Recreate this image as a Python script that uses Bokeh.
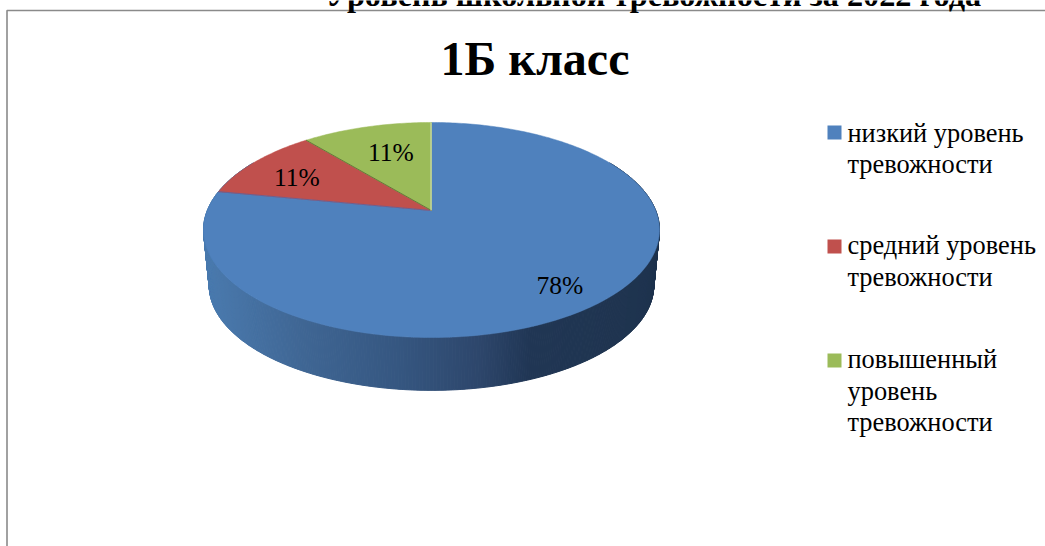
import math
from bokeh.plotting import figure
from bokeh.embed import file_html
from bokeh.resources import INLINE
from bokeh.core.properties import value

# --- data ---
categories = ["низкий уровень тревожности", "средний уровень тревожности", "повышенный уровень тревожности"]
shares = [78, 11, 11]
share_labels = ["78%", "11%", "11%"]
legend_lines = [["низкий уровень", "тревожности"], ["средний уровень", "тревожности"],
                ["повышенный", "уровень", "тревожности"]]
slice_colors = ["#4f81bd", "#c0504d", "#9bbb59"]
chart_title = "1Б класс"
page_title = "Уровень школьной тревожности за 2022 года"

# --- layout ---
W, H = 1045, 546
CX, CY, A, B, K = 431, 210, 224.2, 104.0, 0.1814
DEPTH_Y, DEPTH_SCALE = 56, 0.975
FONT = value("Liberation Serif")
BASE_SHIFT = 0.4  # the svg text sits this many em below the given alphabetic anchor

def project(frac, scale=1.0, dy=0.0):
    th = 2 * math.pi * frac
    u, v = math.sin(th), math.cos(th)
    s = 1 / (1 + K * v)
    return CX + A * u * s * scale, CY - B * v * s * scale + dy

def side_color(x):
    stops = [(205, (0x4a, 0x7a, 0xae)), (300, (0x3f, 0x66, 0x94)), (400, (0x35, 0x56, 0x80)),
             (480, (0x2d, 0x46, 0x6b)), (530, (0x20, 0x36, 0x54)), (660, (0x1e, 0x33, 0x4e))]
    for (x0, c0), (x1, c1) in zip(stops, stops[1:]):
        if x <= x1:
            t = max(0, (x - x0) / (x1 - x0))
            return "#%02x%02x%02x" % tuple(round(a + (b - a) * t) for a, b in zip(c0, c1))
    return "#1e334e"

def put_text(p, xs, ys, texts, px, **kw):
    shifted = [y - BASE_SHIFT * px for y in ys]
    p.text(xs, shifted, text=texts, text_font=FONT, text_font_size=f"{px}px", text_color="black",
           text_baseline="alphabetic", **kw)

p = figure(width=W, height=H, x_range=(0, W), y_range=(H, 0), toolbar_location=None,
           output_backend="svg", min_border=0, outline_line_color=None,
           background_fill_color="white", border_fill_color="white")
p.axis.visible = False
p.grid.visible = False
p.styles = {"position": "absolute", "left": "0", "top": "0"}

# frame of the chart
p.line([6.5, 6.5, W], [H, 10, 10], line_color="#8a8a8a", line_width=1.6)

# side wall: strips between the top rim and the lower rim
fr = [f / 720 for f in range(120, 601)]
for f0, f1 in zip(fr, fr[1:]):
    x0, y0 = project(f0)
    x1, y1 = project(f1)
    x2, y2 = project(f1, DEPTH_SCALE, DEPTH_Y)
    x3, y3 = project(f0, DEPTH_SCALE, DEPTH_Y)
    c = side_color((x0 + x1) / 2)
    p.patch([x0, x1, x2, x3], [y0, y1, y2, y3], fill_color=c, line_color=c, line_width=1)

# top face
total = sum(shares)
start = 0
for share, col in zip(shares, slice_colors):
    n = max(8, int(share * 4))
    fs = [(start + share * i / n) / total for i in range(n + 1)]
    pts = [project(f) for f in fs]
    xs = [CX] + [q[0] for q in pts]
    ys = [CY] + [q[1] for q in pts]
    p.patch(xs, ys, fill_color=col, line_color=col, line_width=0.5)
    start += share

# slice edges
f_a, f_b = shares[0] / total, (shares[0] + shares[1]) / total
xa, ya = project(f_a)
xb, yb = project(f_b)
xt, yt = project(0)
p.line([xa, CX], [ya, CY], line_color="#6e5f8f", line_width=1)
p.line([xb, CX], [yb, CY], line_color="#66793a", line_width=1)
p.line([xt - 0.5, CX - 0.5], [yt, CY], line_color="#d4e0b8", line_width=1)

# slice labels
put_text(p, [536, 273.5, 367.5], [295, 187, 162], share_labels, 25.5, text_align="left")

# titles
put_text(p, [534.5], [77], [chart_title], 48, text_font_style="bold", text_align="center")
put_text(p, [653], [7], [page_title], 32.3, text_font_style="bold", text_align="center")

# legend
sq_y = [132, 246, 360]
base_y = [[143, 174], [255, 287], [369, 401, 432]]
p.rect([834] * 3, sq_y, width=14, height=14, fill_color=slice_colors, line_color=None)
for lines, ys in zip(legend_lines, base_y):
    put_text(p, [847] * len(lines), ys, lines, 26.4, text_align="left")

open("out.html", "w").write(file_html(p, INLINE))
